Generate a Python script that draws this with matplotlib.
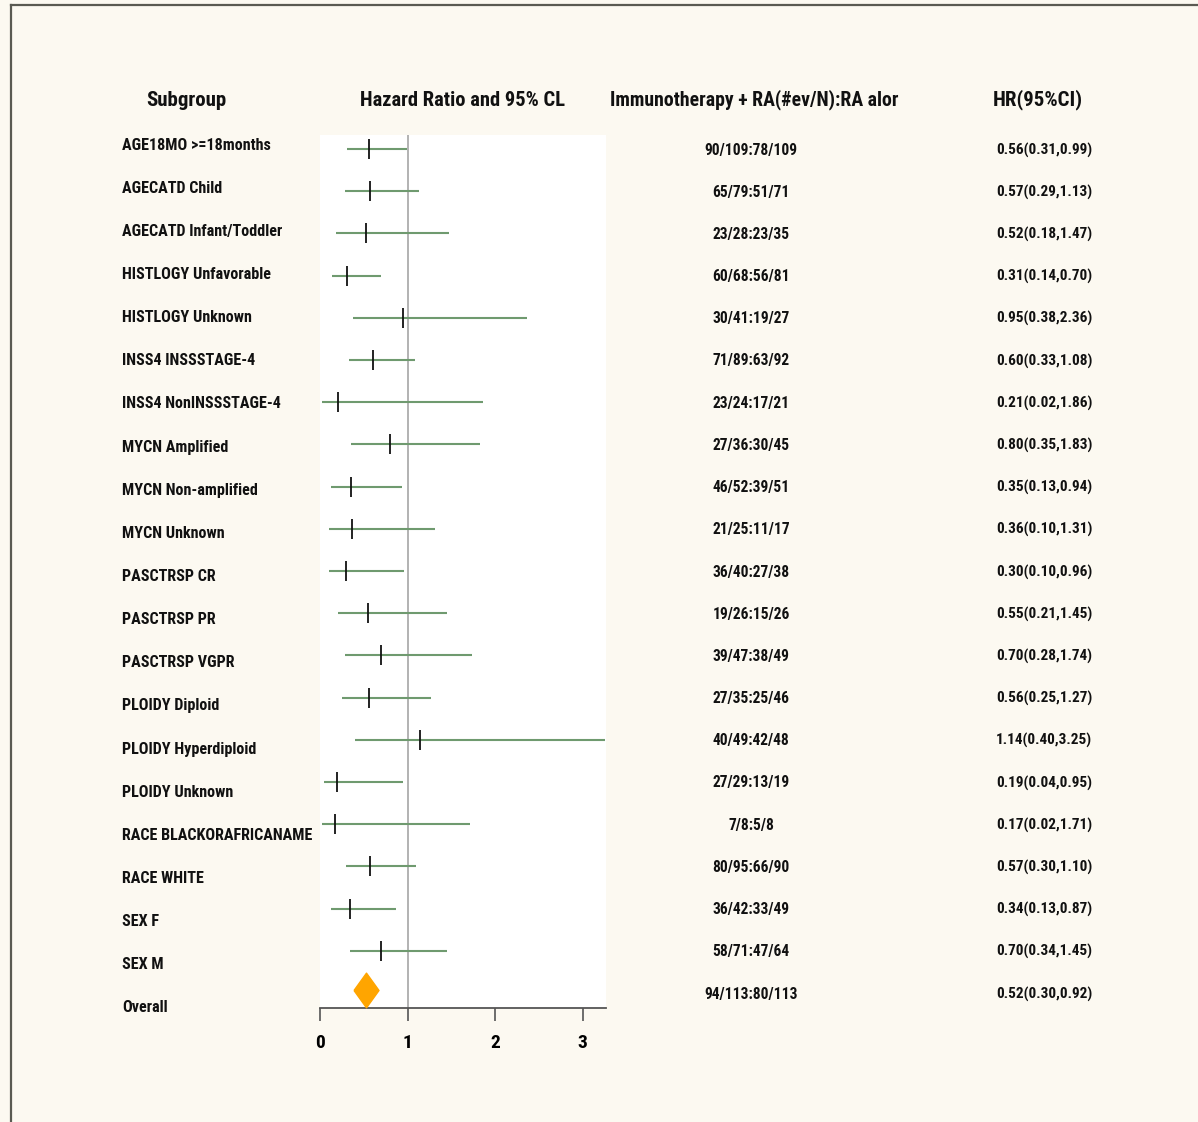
import matplotlib
matplotlib.use("Agg")
import matplotlib.pyplot as plt
from matplotlib.lines import Line2D
import numpy as np

# ---- data ----
subgroups = [
    "AGE18MO >=18months", "AGECATD Child", "AGECATD Infant/Toddler",
    "HISTLOGY Unfavorable", "HISTLOGY Unknown", "INSS4 INSSSTAGE-4",
    "INSS4 NonINSSSTAGE-4", "MYCN Amplified", "MYCN Non-amplified",
    "MYCN Unknown", "PASCTRSP CR", "PASCTRSP PR", "PASCTRSP VGPR",
    "PLOIDY Diploid", "PLOIDY Hyperdiploid", "PLOIDY Unknown",
    "RACE BLACKORAFRICANAME", "RACE WHITE", "SEX F", "SEX M", "Overall",
]
events = [
    "90/109:78/109", "65/79:51/71", "23/28:23/35", "60/68:56/81",
    "30/41:19/27", "71/89:63/92", "23/24:17/21", "27/36:30/45",
    "46/52:39/51", "21/25:11/17", "36/40:27/38", "19/26:15/26",
    "39/47:38/49", "27/35:25/46", "40/49:42/48", "27/29:13/19",
    "7/8:5/8", "80/95:66/90", "36/42:33/49", "58/71:47/64", "94/113:80/113",
]
hr = [0.56, 0.57, 0.52, 0.31, 0.95, 0.60, 0.21, 0.80, 0.35, 0.36, 0.30,
      0.55, 0.70, 0.56, 1.14, 0.19, 0.17, 0.57, 0.34, 0.70, 0.52]
lower = [0.31, 0.29, 0.18, 0.14, 0.38, 0.33, 0.02, 0.35, 0.13, 0.10, 0.10,
         0.21, 0.28, 0.25, 0.40, 0.04, 0.02, 0.30, 0.13, 0.34, 0.30]
upper = [0.99, 1.13, 1.47, 0.70, 2.36, 1.08, 1.86, 1.83, 0.94, 1.31, 0.96,
         1.45, 1.74, 1.27, 3.25, 0.95, 1.71, 1.10, 0.87, 1.45, 0.92]
x_ticks = [0, 1, 2, 3]

headers = ["Subgroup", "Hazard Ratio and 95% CL",
           "Immunotherapy + RA(#ev/N):RA alor", "HR(95%CI)"]

# ---- figure setup ----
W, H = 1198, 1122
BG = "#fcf9f1"
FONT = ["Roboto Condensed", "Archivo Narrow", "DejaVu Sans"]
plt.rcParams["font.family"] = FONT
plt.rcParams["font.weight"] = "bold"

fig = plt.figure(figsize=(W / 100, H / 100), dpi=100, facecolor=BG)


def fx(px):
    return px / W


def fy(py):
    return 1 - py / H


# outer frame (left and top edges)
fig.add_artist(Line2D([fx(11), fx(11)], [fy(5), fy(H + 5)],
                      transform=fig.transFigure, color="#5a5a52", lw=1.6))
fig.add_artist(Line2D([fx(11), fx(W + 5)], [fy(5), fy(5)],
                      transform=fig.transFigure, color="#5a5a52", lw=1.6))

# ---- forest plot axes ----
ax_l, ax_r, ax_t, ax_b = 320, 606, 135, 1008
ax = fig.add_axes([fx(ax_l), fy(ax_b), fx(ax_r - ax_l), (ax_b - ax_t) / H])
ax.set_facecolor("white")

n = len(subgroups)
rows = np.arange(n)
row_top, row_step = 149, 42.2
ax.set_ylim(20 + (ax_b - (row_top + 20 * row_step)) / row_step,
            -(row_top - ax_t) / row_step)
ax.set_xlim(0, (ax_r - ax_l) / 87.6)

ax.axvline(1, color="#a6a6a6", lw=1.2, zorder=1)

for i in rows[:-1]:
    ax.plot([lower[i], upper[i]], [i, i], color="#6f9a6f", lw=1.5,
            solid_capstyle="butt", zorder=2)
    ax.plot([hr[i]], [i], marker="|", markersize=14.5, mew=1.3,
            color="#111111", zorder=3)

# overall estimate as a tall diamond
diamond = [(-0.72, 0), (0, 1), (0.72, 0), (0, -1), (-0.72, 0)]
ax.plot([hr[-1]], [rows[-1] - 0.06], marker=diamond, markersize=25,
        color="#ffa500", mec="#ffa500", zorder=3)

for s in ["top", "right", "left"]:
    ax.spines[s].set_visible(False)
ax.spines["bottom"].set_color("#555555")
ax.spines["bottom"].set_linewidth(1.3)
ax.set_yticks([])
ax.set_xticks(x_ticks)
ax.tick_params(axis="x", length=9, width=1.2, color="#555555", pad=10,
               labelsize=14)
for lab in ax.get_xticklabels():
    lab.set_fontweight("bold")

# ---- headers ----
hdr_x = [186, 462, 754, 1038]
hdr_size = [15.0, 14.8, 14.2, 15.0]
for t, x, fs in zip(headers, hdr_x, hdr_size):
    fig.text(fx(x), fy(100), t, ha="center", va="center", fontsize=fs,
             fontweight="bold", color="#111111")

# ---- row text columns ----
for i in rows:
    fig.text(fx(122), fy(145 + i * 43.15), subgroups[i], ha="left",
             va="center", fontsize=11.6, fontweight="bold", color="#111111")
    fig.text(fx(751), fy(150 + i * 42.2), events[i], ha="center",
             va="center", fontsize=11.2, fontweight="bold", color="#111111")
    fig.text(fx(1044), fy(150 + i * 42.2),
             f"{hr[i]:.2f}({lower[i]:.2f},{upper[i]:.2f})", ha="center",
             va="center", fontsize=11.0, fontweight="bold", color="#111111")

fig.savefig("out.png", dpi=100, facecolor=BG)
